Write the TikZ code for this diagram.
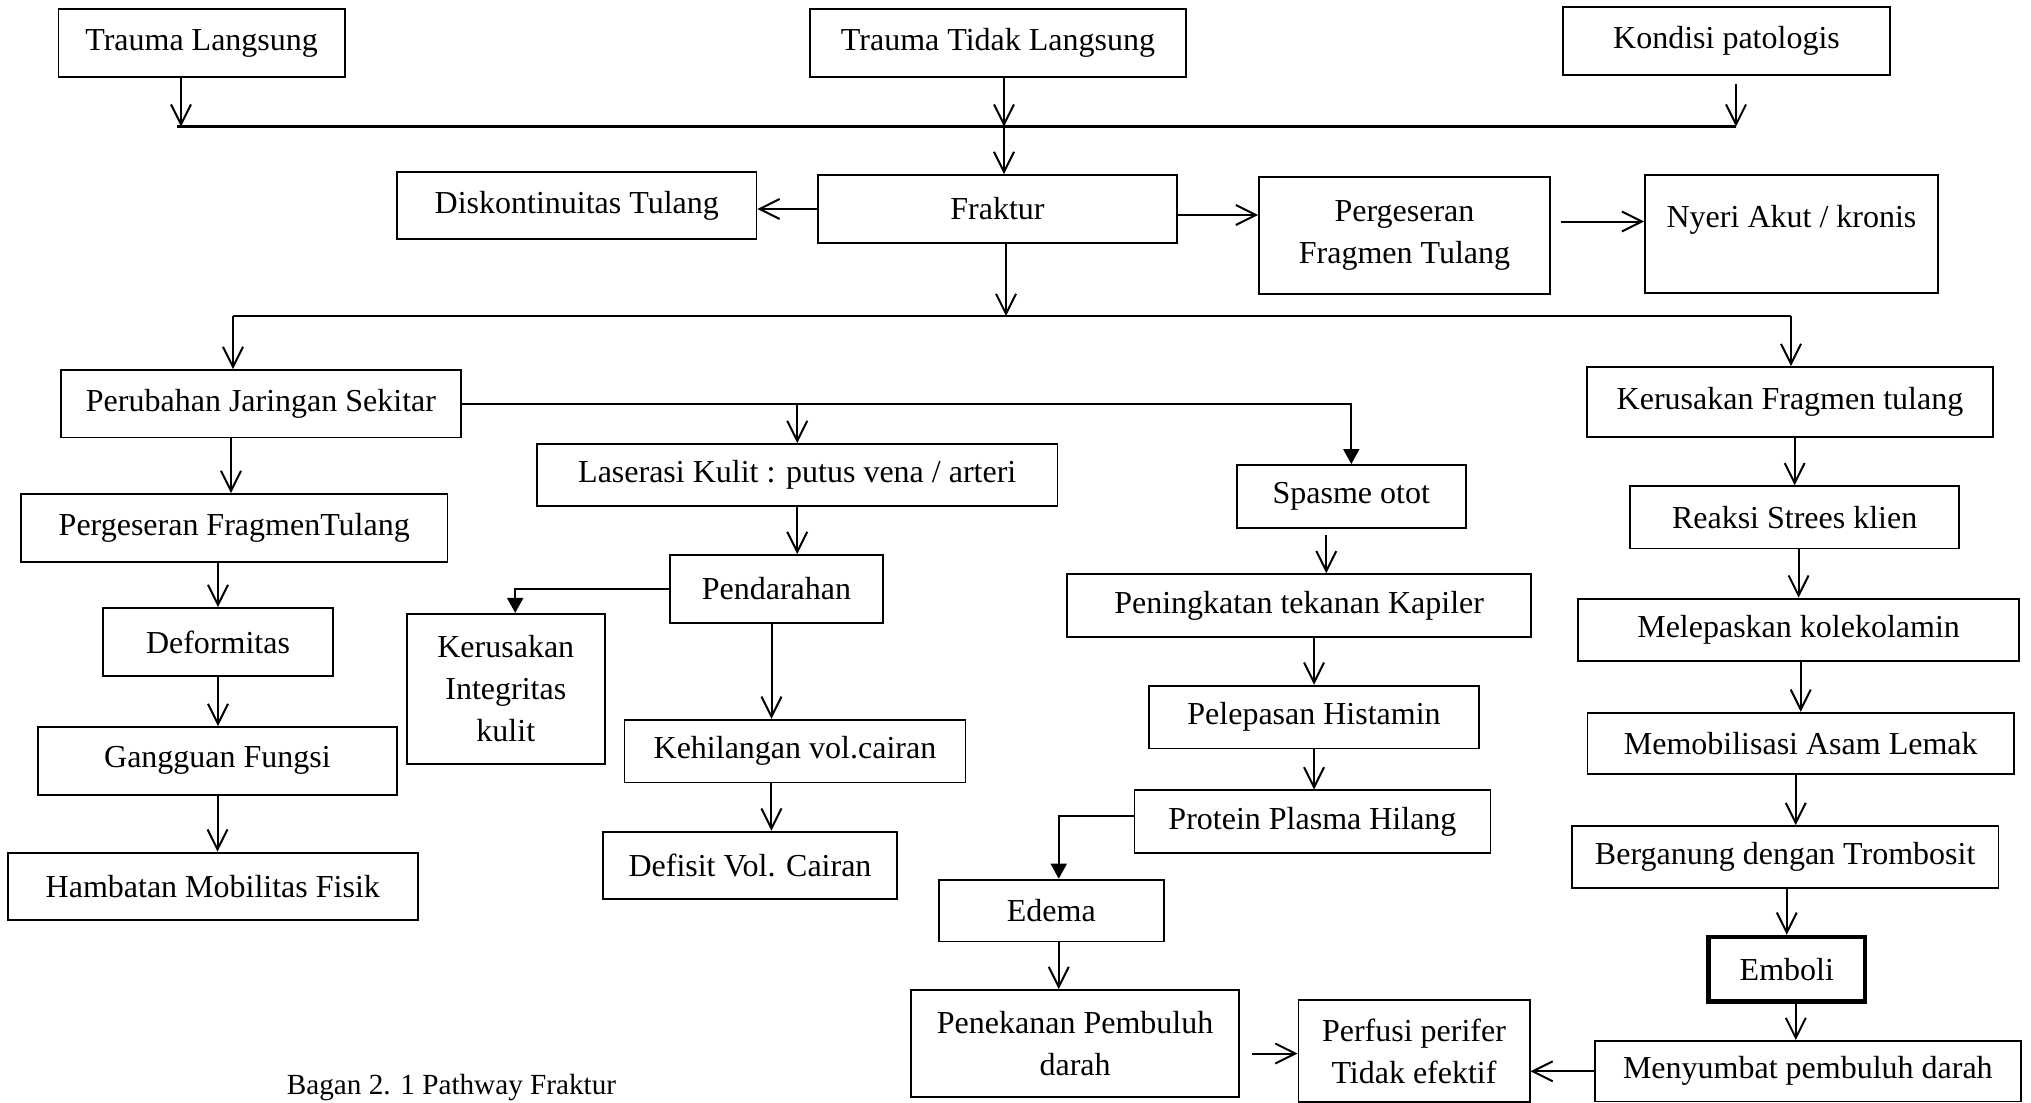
\documentclass[tikz,border=0pt]{standalone}
\usepackage{fontspec}
\setmainfont{Liberation Serif}
\usetikzlibrary{arrows.meta}
\tikzset{
  box/.style={draw, line width=0.9pt, inner sep=2pt, align=center},
  arr/.style={line width=1pt, -{Straight Barb[length=10pt,width=10pt]}},
  farr/.style={line width=1pt, -{Triangle[length=7.5pt,width=8pt]}},
  bus/.style={line width=1.3pt},
  txt/.style={inner sep=0pt, align=center},
}
\newcommand\bx[7][]{\node[box,#1,minimum width={(#5-#3)*0.5pt},minimum height={(#6-#4)*0.5pt}] (#2) at ({(#3+#5)/2},{(#4+#6)/2}) {#7};}
\begin{document}
\begin{tikzpicture}[x=0.5pt, y=-0.5pt, font=\fontsize{16}{21}\selectfont]
\fill[white] (0,0) rectangle (2031,1103);
\useasboundingbox (0,0) rectangle (2031,1103);
% boxes
\bx{tl}{58.5}{9.3}{344.8}{77.3}{Trauma Langsung}
\bx{ttl}{810}{9}{1186}{77}{Trauma Tidak Langsung}
\bx{kp}{1563}{7}{1890}{75}{Kondisi patologis}
\bx{disk}{397}{172}{756.5}{239.3}{Diskontinuitas Tulang}
\bx{fr}{818}{175}{1177}{243}{Fraktur}
\bx{pfg}{1259}{177}{1550}{294}{Pergeseran\\Fragmen Tulang}
\bx{ny}{1645}{175}{1938}{293}{}
\node[txt] (nyT) at ([yshift=7pt]ny.center) {Nyeri Akut / kronis};
\bx{pjs}{61}{370}{461}{437.5}{Perubahan Jaringan Sekitar}
\bx{kft}{1587}{367}{1993}{437.3}{Kerusakan Fragmen tulang}
\bx{pft}{21}{494}{447.5}{562}{Pergeseran FragmenTulang}
\bx{def}{103}{608}{333}{676}{Deformitas}
\bx{gf}{38}{727}{397}{794.6}{Gangguan Fungsi}
\bx{hmf}{8}{852.6}{417.6}{920}{Hambatan Mobilitas Fisik}
\bx{lk}{537}{444}{1057.5}{506}{Laserasi Kulit : putus vena / arteri}
\bx{pd}{670}{555}{883}{622.6}{Pendarahan}
\bx{kik}{406.6}{613.8}{605}{764}{Kerusakan\\Integritas\\kulit}
\bx{kvc}{624.5}{719.7}{965.4}{782.4}{Kehilangan vol.cairan}
\bx{dvc}{603}{831.6}{897}{899.2}{Defisit Vol. Cairan}
\bx{sp}{1236.6}{465}{1466}{527.6}{Spasme otot}
\bx{ptk}{1067.3}{574.2}{1531}{637}{Peningkatan tekanan Kapiler}
\bx{ph}{1149.3}{685.7}{1478.8}{748.4}{Pelepasan Histamin}
\bx{pph}{1134.4}{790.3}{1490.5}{852.6}{Protein Plasma Hilang}
\bx{ed}{939}{879.6}{1163.7}{941.4}{Edema}
\bx{pen}{911}{990}{1239.2}{1097}{Penekanan Pembuluh\\darah}
\bx{pp}{1298.4}{1000}{1529.6}{1102}{Perfusi perifer\\Tidak efektif}
\bx{rsk}{1630}{486.2}{1959.3}{548.5}{Reaksi Strees klien}
\bx{mk}{1578}{598.6}{2019.2}{661}{Melepaskan kolekolamin}
\bx{mal}{1587.5}{712.7}{2014}{773.7}{Memobilisasi Asam Lemak}
\bx{bt}{1572}{826}{1998.4}{888.3}{Berganung dengan Trombosit}
\bx[line width=2.2pt]{em}{1708.6}{937}{1865}{1001.5}{Emboli}
\bx{mpd}{1594.7}{1041}{2021}{1101.5}{Menyumbat pembuluh darah}
\node[txt, font=\fontsize{14.6}{17}\selectfont] (cap) at (451.5,1088) {Bagan 2. 1 Pathway Fraktur};
% bus coordinates
\coordinate (b1L) at (177,126.7);
\coordinate (b1R) at (1736,126.7);
\coordinate (a1) at (181,126.7);
\coordinate (b1M) at (1004,126.7);
\coordinate (a3) at (1736,126.7);
\coordinate (b2L) at (233,316);
\coordinate (b2R) at (1791,316);
\coordinate (b2M) at (1006,316);
% top level
\draw[bus] (b1L) -- (b1R);
\draw[arr] (a1 |- tl.south) -- (a1);
\draw[arr] (b1M |- ttl.south) -- (b1M);
\draw[arr] ([yshift=-4pt]a3 |- kp.south) -- (a3);
\draw[arr] (b1M) -- (b1M |- fr.north);
\draw[arr] (fr.west) -- (fr.west -| disk.east);
\draw[arr] ([yshift=-3pt]fr.east) -- ([yshift=-3pt]fr.east -| pfg.west);
\draw[arr] ([xshift=5pt,yshift=7pt]pfg.east) -- ([yshift=7pt]pfg.east -| ny.west);
\draw[arr] (b2M |- fr.south) -- (b2M);
\draw[bus] (b2L) -- (b2R);
\draw[arr] (b2L) -- (b2L |- pjs.north);
\draw[arr] (b2R) -- (b2R |- kft.north);
% middle branch
\draw[farr] (pjs.east) -| (sp.north);
\draw[arr] (lk.north |- pjs.east) -- (lk.north);
% left column
\draw[arr] ([xshift=-15pt]pjs.south) -- ([xshift=-15pt]pjs.south |- pft.north);
\draw[arr] (def.north |- pft.south) -- (def.north);
\draw[arr] (def.south) -- (def.south |- gf.north);
\draw[arr] (gf.south) -- (gf.south |- hmf.north);
% laserasi column
\draw[arr] (lk.south) -- (lk.south |- pd.north);
\draw[farr] (pd.west) -| ([xshift=4.7pt]kik.north);
\draw[arr] ([xshift=-2.5pt]pd.south) -- ([xshift=-2.5pt]pd.south |- kvc.north);
\draw[arr] ([xshift=-11.75pt]kvc.south) -- ([xshift=-11.75pt]kvc.south |- dvc.north);
% spasme column
\draw[arr] ([xshift=-12.5pt,yshift=-3pt]sp.south) -- ([xshift=-12.5pt]sp.south |- ptk.north);
\draw[arr] (ph.north |- ptk.south) -- (ph.north);
\draw[arr] (ph.south) -- (ph.south |- pph.north);
\draw[farr] ([yshift=2.5pt]pph.west) -| ([xshift=3.7pt]ed.north);
\draw[arr] ([xshift=3.7pt]ed.south) -- ([xshift=3.7pt]ed.south |- pen.north);
\draw[arr] ([xshift=6pt,yshift=-5pt]pen.east) -- ([yshift=-5pt]pen.east -| pp.west);
% right column
\draw[arr] (rsk.north |- kft.south) -- (rsk.north);
\draw[arr] (mk.north |- rsk.south) -- (mk.north);
\draw[arr] (mal.north |- mk.south) -- (mal.north);
\draw[arr] ([xshift=-2.5pt]mal.south) -- ([xshift=-2.5pt]mal.south |- bt.north);
\draw[arr] (em.north |- bt.south) -- (em.north);
\draw[arr] ([xshift=4.5pt]em.south) -- ([xshift=4.5pt]em.south |- mpd.north);
\draw[arr] (mpd.west) -- (mpd.west -| pp.east);
\end{tikzpicture}
\end{document}
